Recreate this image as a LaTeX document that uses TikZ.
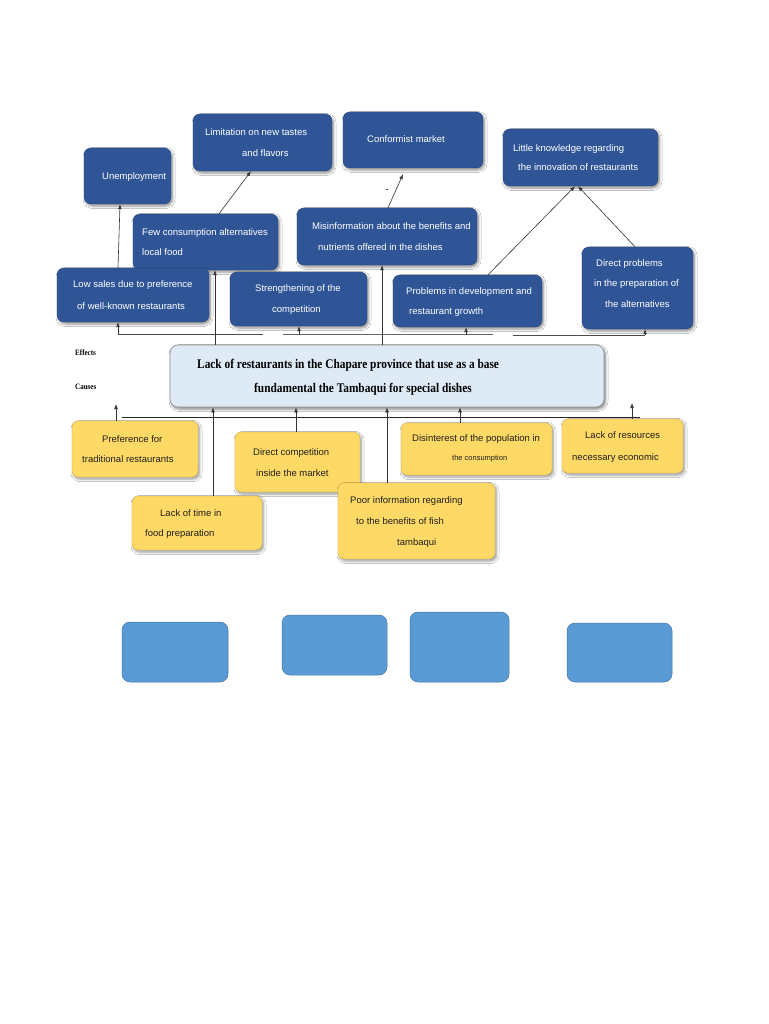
\documentclass[tikz,border=0pt]{standalone}
\usepackage{fontspec}
\setmainfont{Liberation Sans}
\newfontfamily\titlefont{Liberation Serif}[FakeStretch=0.86]
\usetikzlibrary{shadows,shadows.blur,arrows.meta,calc}
\definecolor{bdark}{RGB}{47,85,151}
\definecolor{mfill}{RGB}{222,235,247}
\definecolor{ycol}{RGB}{255,217,102}
\definecolor{qcol}{RGB}{91,155,213}
\begin{document}
\begin{tikzpicture}[x=1pt,y=-1pt,
  shd/.style={blur shadow={shadow xshift=1.5pt, shadow yshift=-2pt, shadow blur steps=6, shadow blur radius=2.5pt, shadow opacity=#1}},
  ebox/.style={draw=bdark!85!black, line width=0.4pt, fill=bdark, rounded corners=7pt, inner sep=0, shd=45},
  mbox/.style={draw=black!45, line width=0.6pt, fill=mfill, rounded corners=8pt, inner sep=0, shd=50},
  ybox/.style={draw=ycol!80!black, line width=0.4pt, fill=ycol, rounded corners=6pt, inner sep=0, shd=40},
  qbox/.style={draw=qcol!75!black, line width=0.5pt, fill=qcol, rounded corners=8pt, inner sep=0},
  wt/.style={anchor=base west, inner sep=0, text=white, font=\fontsize{9.5}{11}\selectfont},
  dt/.style={anchor=base west, inner sep=0, text=black!88, font=\fontsize{9.5}{11}\selectfont},
  tt/.style={anchor=base west, inner sep=0, text=black, font=\fontsize{13.2}{15}\titlefont\bfseries},
  st/.style={anchor=base west, inner sep=0, text=black, font=\fontsize{8.2}{9}\titlefont\bfseries},
  arr/.style={draw=black!80, line width=0.6pt, -{Latex[length=5pt,width=3.8pt]}},
  ln/.style={draw=black!70, line width=0.6pt},
  cl/.style={draw=black!85, line width=1pt}]
\useasboundingbox (0,0) rectangle (768,1024);
\fill[white] (0,0) rectangle (768,1024);

% ---------- effects (top) ----------
\node[ebox, minimum width=87pt,  minimum height=56pt] (unemp)    at (127.5,176) {};
\node[ebox, minimum width=139pt, minimum height=57pt] (limit)    at (262.5,142.5) {};
\node[ebox, minimum width=140pt, minimum height=56pt] (conform)  at (413,140) {};
\node[ebox, minimum width=155pt, minimum height=57pt] (little)   at (580.5,157.5) {};
\node[ebox, minimum width=145pt, minimum height=56pt] (few)      at (205.5,242) {};
\node[ebox, minimum width=180pt, minimum height=57pt] (misinfo)  at (387,236.5) {};
\node[ebox, minimum width=152pt, minimum height=54pt] (lowsales) at (133,295) {};
\node[ebox, minimum width=137pt, minimum height=54pt] (strength) at (298.5,299) {};
\node[ebox, minimum width=149pt, minimum height=52pt] (problems) at (467.5,301) {};
\node[ebox, minimum width=111pt, minimum height=82pt] (direct)   at (637.5,288) {};

% ---------- central problem ----------
\node[mbox, minimum width=434pt, minimum height=62pt] (main) at (387,376) {};

% ---------- causes ----------
\node[ybox, minimum width=126pt, minimum height=56pt] (pref)     at (135,449) {};
\node[ybox, minimum width=125pt, minimum height=60pt] (dcomp)    at (297.5,462) {};
\node[ybox, minimum width=130pt, minimum height=54pt] (lacktime) at (197,523) {};
\node[ybox, minimum width=157pt, minimum height=76pt] (poor)     at (416.5,521) {};
\node[ybox, minimum width=151pt, minimum height=52pt] (disint)   at (476.5,449) {};
\node[ybox, minimum width=121pt, minimum height=54pt] (lackres)  at (622.5,446) {};

% ---------- empty boxes ----------
\node[qbox, minimum width=106pt, minimum height=60pt] (b1) at (175,652) {};
\node[qbox, minimum width=105pt, minimum height=60pt] (b2) at (334.5,645) {};
\node[qbox, minimum width=99pt,  minimum height=70pt] (b3) at (459.5,647) {};
\node[qbox, minimum width=105pt, minimum height=59pt] (b4) at (619.5,652.5) {};

% ---------- texts ----------
\node[wt] (tu1) at (102,179.4) {Unemployment};
\node[wt] (tl1) at (205,135.4) {Limitation on new tastes};
\node[wt] (tl2) at (242,156.4) {and flavors};
\node[wt] (tc1) at (367,142.4) {Conformist market};
\node[wt] (tk1) at (513,151.4) {Little knowledge regarding};
\node[wt] (tk2) at (518,170.4) {the innovation of restaurants};
\node[wt] (tf1) at (142,235.4) {Few consumption alternatives};
\node[wt] (tf2) at (142,255.4) {local food};
\node[wt] (tm1) at (312,229.4) {Misinformation about the benefits and};
\node[wt] (tm2) at (318,250.4) {nutrients offered in the dishes};
\node[wt] (ts1) at (73,287.4) {Low sales due to preference};
\node[wt] (ts2) at (77,309.4) {of well-known restaurants};
\node[wt] (tg1) at (255,291.4) {Strengthening of the};
\node[wt] (tg2) at (272,312.4) {competition};
\node[wt] (tp1) at (406,294.4) {Problems in development and};
\node[wt] (tp2) at (409,314.4) {restaurant growth};
\node[wt] (td1) at (596,266.4) {Direct problems};
\node[wt] (td2) at (594,286.4) {in the preparation of};
\node[wt] (td3) at (605,307.4) {the alternatives};

\node[tt] (tmain1) at (197,368.3) {Lack of restaurants in the Chapare province that use as a base};
\node[tt] (tmain2) at (254,392.3) {fundamental the Tambaqui for special dishes};
\node[st] (teff) at (75,355.8) {Effects};
\node[st] (tcau) at (75,389.8) {Causes};

\node[dt] (ty1) at (102,442.4) {Preference for};
\node[dt] (ty2) at (82,462.4) {traditional restaurants};
\node[dt] (ty3) at (253,455.4) {Direct competition};
\node[dt] (ty4) at (256,476.4) {inside the market};
\node[dt] (ty5) at (160,516.4) {Lack of time in};
\node[dt] (ty6) at (145,536.4) {food preparation};
\node[dt] (ty7) at (350,503.4) {Poor information regarding};
\node[dt] (ty8) at (356,524.4) {to the benefits of fish};
\node[dt] (ty9) at (397,545.4) {tambaqui};
\node[dt] (ty10) at (412,441.4) {Disinterest of the population in};
\node[dt, font=\fontsize{7.5}{9}\selectfont] (ty11) at (452,460.6) {the consumption};
\node[dt] (ty12) at (585,438.4) {Lack of resources};
\node[dt] (ty13) at (572,460.4) {necessary economic};

\node[inner sep=0, font=\fontsize{9}{10}\selectfont] (dash) at (387,191) {-};

% ---------- effect connectors ----------
\coordinate (e1) at (118,334);
\coordinate (e2) at (263,334);
\coordinate (e3) at (283,334.5);
\coordinate (e4) at (493,334.5);
\coordinate (e5) at (513,335);
\coordinate (e6) at (645,335);
\coordinate (ea) at (299,334);
\coordinate (eb) at (466,335);
\draw[ln] (e1) -- (e2);
\draw[ln, draw=black!60, line width=0.75pt] (e3) -- (e4);
\draw[ln] (e5) -- (e6);
\draw[arr] (e1) -- (e1 |- lowsales.south);
\draw[arr] (ea) -- (ea |- strength.south);
\draw[arr] (eb) -- (eb |- problems.south);
\draw[arr] (e6) -- (e6 |- direct.south);

\draw[arr] ([xshift=-172pt]main.north) -- ([xshift=-172pt]main.north |- few.south);
\draw[arr] ([xshift=-5pt]main.north) -- ([xshift=-5pt]main.north |- misinfo.south);

\draw[arr] ([xshift=-15pt]lowsales.north) -- ([xshift=-7.5pt]unemp.south);
\draw[arr] ([xshift=13.5pt]few.north) -- ([xshift=-11.5pt]limit.south);
\draw[arr] ([xshift=1pt]misinfo.north) -- ([xshift=-10pt,yshift=-6pt]conform.south);
\draw[arr] ([xshift=20.5pt]problems.north) -- ([xshift=-5.5pt]little.south);
\draw[arr] ([xshift=-2.5pt]direct.north) -- ([xshift=-2.5pt]little.south);

% ---------- cause connectors ----------
\coordinate (c0) at (122,417);
\coordinate (c1) at (640,417);
\draw[cl] (c0) -- (c1);
\coordinate (p1) at (116,404);
\coordinate (p2) at (632,403);
\draw[arr] ([xshift=-19pt]pref.north) -- (p1);
\draw[arr] ([xshift=9.5pt]lackres.north) -- (p2);
\draw[arr] ([xshift=16pt]lacktime.north) -- ([xshift=16pt]lacktime.north |- main.south);
\draw[arr] ([xshift=-1.5pt]dcomp.north) -- ([xshift=-1.5pt]dcomp.north |- main.south);
\draw[arr] ([xshift=-29.5pt]poor.north) -- ([xshift=-29.5pt]poor.north |- main.south);
\draw[arr] ([xshift=-16.5pt]disint.north) -- ([xshift=-16.5pt]disint.north |- main.south);
\end{tikzpicture}
\end{document}
